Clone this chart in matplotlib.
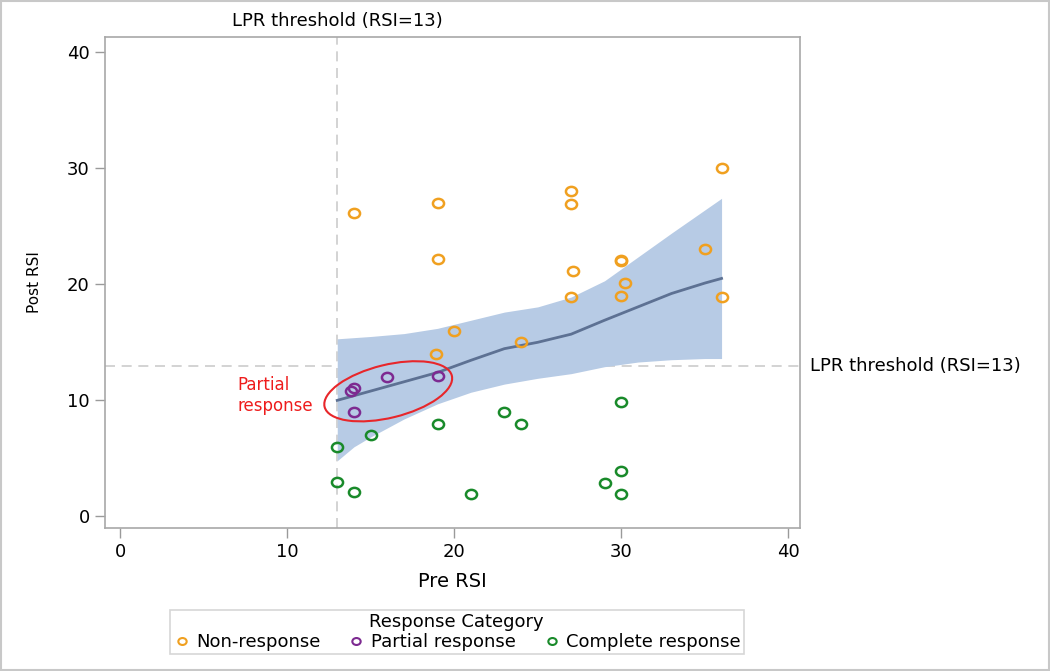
import matplotlib
matplotlib.use("Agg")
import matplotlib.pyplot as plt
import matplotlib.transforms as mtransforms
from matplotlib.patches import Ellipse, Rectangle
from matplotlib.path import Path

plt.rcParams['font.family'] = ['DejaVu Sans']

# datos
non_x = [14, 19, 19, 18.9, 20, 24, 27, 27, 27.1, 27, 30, 30, 30.2, 30, 35, 36, 36]
non_y = [26.1, 27, 22.2, 14, 16, 15, 28, 26.9, 21.1, 18.9, 22.1, 22.0, 20.1, 19, 23, 30, 18.9]

par_x = [13.8, 14, 16, 19, 14]
par_y = [10.8, 11.1, 12, 12.1, 9]

com_x = [13, 15, 19, 23, 24, 30, 13, 14, 21, 29, 30, 30]
com_y = [6, 7, 8, 9, 8, 9.9, 3, 2.1, 1.9, 2.9, 3.9, 1.9]

# curva loess y banda de confianza
fit_x = [13, 14, 15, 17, 19, 21, 23, 25, 27, 29, 31, 33, 35, 36]
fit_y = [10.0, 10.4, 10.8, 11.6, 12.4, 13.45, 14.45, 15.0, 15.7, 16.9, 18.05, 19.2, 20.1, 20.5]
lo_y = [4.8, 6.0, 6.85, 8.4, 9.7, 10.7, 11.4, 11.9, 12.3, 12.9, 13.3, 13.5, 13.6, 13.6]
hi_y = [15.3, 15.4, 15.5, 15.75, 16.2, 16.9, 17.6, 18.05, 18.9, 20.3, 22.35, 24.4, 26.4, 27.4]

threshold = 13

fig = plt.figure(figsize=(10.5, 6.71), dpi=100)
ax = fig.add_axes([0.1, 0.213, 0.662, 0.732])

ax.fill_between(fit_x, lo_y, hi_y, color='#b7cbe5', linewidth=0, zorder=1)
ax.plot(fit_x, fit_y, color='#5d7193', linewidth=2, zorder=2)

ax.axvline(threshold, color='#cccccc', linestyle=(0, (6, 4)), linewidth=1.2, zorder=0)
ax.axhline(threshold, color='#cccccc', linestyle=(0, (6, 4)), linewidth=1.2, zorder=0)

# circulo algo ensanchado como en la imagen original
circ = Path.unit_circle()
oval = Path(circ.vertices * [1.2, 1.0], circ.codes)

mk = dict(linestyle='none', marker=oval, markersize=8, markerfacecolor='none',
          markeredgewidth=1.8, zorder=3)
ax.plot(non_x, non_y, markeredgecolor='#f0a020', label='Non-response', **mk)
ax.plot(par_x, par_y, markeredgecolor='#7d2a91', label='Partial response', **mk)
ax.plot(com_x, com_y, markeredgecolor='#198a2a', label='Complete response', **mk)

# elipse roja alrededor de la respuesta parcial
tr = fig.dpi_scale_trans + mtransforms.ScaledTranslation(16.05, 10.78, ax.transData)
ax.add_patch(Ellipse((0, 0), 1.31, 0.53, angle=13.75, transform=tr,
                     fill=False, edgecolor='#e8262a', linewidth=1.5, zorder=4))
ax.text(7.0, 10.4, 'Partial\nresponse', color='#ee1c1c', fontsize=12,
        ha='left', va='center', linespacing=1.2)

ax.text(threshold, 41.9, 'LPR threshold (RSI=13)', ha='center', va='bottom', fontsize=13)
ax.text(41.3, threshold, 'LPR threshold (RSI=13)', ha='left', va='center', fontsize=13,
        clip_on=False)

ax.set_xlim(-0.9, 40.7)
ax.set_ylim(-1.0, 41.3)
ax.set_xticks([0, 10, 20, 30, 40])
ax.set_yticks([0, 10, 20, 30, 40])
ax.set_xlabel('Pre RSI', fontsize=14, labelpad=8)
ax.set_ylabel('Post RSI', fontsize=11, labelpad=18)
ax.tick_params(labelsize=13, color='#9a9a9a', length=7, width=1, pad=4)
for s in ax.spines.values():
    s.set_color('#a8a8a8')
    s.set_linewidth(1.2)

leg = fig.legend(loc='center', bbox_to_anchor=(0.435, 0.058), ncol=3,
                 title='Response Category', fontsize=13, title_fontsize=13,
                 frameon=True, fancybox=False, handletextpad=0.3,
                 columnspacing=1.5, borderpad=0.15, handlelength=1.0,
                 markerscale=0.75, labelspacing=0.2)
leg.get_frame().set_edgecolor('#cccccc')
leg.get_frame().set_linewidth(1.2)
leg._legend_box.sep = 2
for h in leg.legend_handles:
    h.set_markeredgewidth(1.5)

fig.patches.append(Rectangle((0.001, 0.001), 0.998, 0.997, transform=fig.transFigure,
                             fill=False, edgecolor='#c8c8c8', linewidth=1.5))

fig.savefig('out.png', dpi=100)
